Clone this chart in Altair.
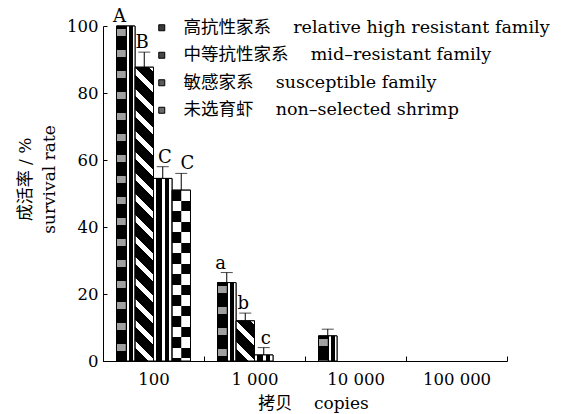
import math

import altair as alt
import pandas as pd

# ---- data -------------------------------------------------------------
copies = ["100", "1 000", "10 000", "100 000"]
family_cn = ["高抗性家系", "中等抗性家系", "敏感家系", "未选育虾"]
family_en = [
    "relative high resistant family",
    "mid–resistant family",
    "susceptible family",
    "non–selected shrimp",
]

high_rate = [100.0, 23.4, 7.5, 0.0]
mid_rate = [87.7, 12.0, 0.0, 0.0]
sus_rate = [54.5, 1.8, 0.0, 0.0]
wild_rate = [51.0, 0.0, 0.0, 0.0]

high_err = [0.0, 3.0, 2.0, 0.0]
mid_err = [4.5, 2.3, 0.0, 0.0]
sus_err = [3.5, 2.2, 0.0, 0.0]
wild_err = [5.0, 0.0, 0.0, 0.0]

high_sig = ["A", "a", "", ""]
mid_sig = ["B", "b", "", ""]
sus_sig = ["C", "c", "", ""]
wild_sig = ["C", "", "", ""]

GAP = "\u00a0" * 4
families = [f"{cn}{GAP}{en}" for cn, en in zip(family_cn, family_en)]
# half-width slots, with one empty slot at each end of a group
halves = ["<"] + [f"{f}|{side}" for f in families for side in ("L", "R")] + [">"]

rows = []
for fam, rates, errs, sigs in zip(
    families,
    [high_rate, mid_rate, sus_rate, wild_rate],
    [high_err, mid_err, sus_err, wild_err],
    [high_sig, mid_sig, sus_sig, wild_sig],
):
    for cp, r, e, s in zip(copies, rates, errs, sigs):
        rows.append({"copies": cp, "family": fam, "rate": r, "err": e,
                     "upper": r + e, "sig": s})
df = pd.DataFrame(rows)

# ---- layout -----------------------------------------------------------
PLOT_W, PLOT_H = 404, 335
OUTER = 0.73                      # outer padding of a bar group, in bar widths
BAND = PLOT_W / len(copies)
BAR_W = BAND / (len(families) + 2 * OUTER)
HALF_OUTER = (BAND / (BAR_W / 2) - len(halves)) / 2
PX_PER_UNIT = PLOT_H / 100.0

LATIN = "'DejaVu Serif', 'Noto Sans CJK SC', serif"
CLEAR = "rgba(0,0,0,0)"

# ---- hatch fills built from hard-stop linear gradients -----------------
def stops_from_runs(runs, lo, span):
    out = []
    for a, b, col in runs:
        a, b = max(a, lo), min(b, lo + span)
        if b <= a:
            continue
        out.append({"offset": round((a - lo) / span, 5), "color": col})
        out.append({"offset": round((b - lo) / span, 5), "color": col})
    return out


def column_fill(cols):
    stops, start = [], 0.0
    for end, col in cols:
        stops += [{"offset": start, "color": col}, {"offset": end, "color": col}]
        start = end
    return {"gradient": "linear", "x1": 0, "y1": 0, "x2": 1, "y2": 0, "stops": stops}


def row_fill(h, cycle, phase=0.0):
    runs, pos, i = [], -phase, 0
    while pos < h:
        ln, col = cycle[i % len(cycle)]
        runs.append((pos, pos + ln, col))
        pos += ln
        i += 1
    return {"gradient": "linear", "x1": 0, "y1": 0, "x2": 0, "y2": 1,
            "stops": stops_from_runs(runs, 0.0, h)}


def stripe_fill(h, w, slope, cycle):
    # stripes along y - slope * x = const, inside a w x h bar
    lo, span = -slope * w, h + slope * w
    alpha = span / (slope ** 2 * w ** 2 + h ** 2)
    period = sum(ln for ln, _ in cycle)
    runs, pos, i = [], math.floor(lo / period) * period, 0
    while pos < lo + span:
        ln, col = cycle[i % len(cycle)]
        runs.append((pos, pos + ln, col))
        pos += ln
        i += 1
    return {"gradient": "linear", "x1": 1, "y1": 0,
            "x2": round(1 - alpha * slope * w, 5), "y2": round(alpha * h, 5),
            "stops": stops_from_runs(runs, lo, span)}


HIGH_COLS = [(0.55, "black"), (0.70, "white"), (0.90, "black"), (1.0, "white")]
SUS_COLS = [(0.15, "white"), (0.48, "black"), (0.60, "white"), (0.85, "black"), (1.0, "white")]
MID_CYCLE = [(7, "white"), (14, "black")]
CHECK = 10.5
PATCH_CYCLE = [(7, "#a0a0a0"), (14, CLEAR)]

# ---- shared encodings -------------------------------------------------
x_axis = alt.Axis(
    labelAngle=0, tickBand="extent", tickSize={"expr": "-5"}, tickColor="black",
    domainColor="black", labelColor="black", labelFont=LATIN, labelFontSize=16.5,
    labelPadding=15, grid=False,
    title=f"拷贝{GAP}copies", titleFont=LATIN, titleFontSize=17, titleFontWeight="normal",
    titleColor="black", titleX=210, titleY=47, titleBaseline="alphabetic",
)
y_axis = alt.Axis(
    values=[0, 20, 40, 60, 80, 100], tickSize={"expr": "-4"}, tickColor="black",
    domainColor="black", labelColor="black", labelFont=LATIN, labelFontSize=16.5,
    labelPadding=9, grid=False,
    title=["成活率 / %", "survival rate"], titleFont=LATIN, titleFontSize=17,
    titleFontWeight="normal", titleColor="black", titleLineHeight=24,
    titleAngle=270, titleAlign="center", titleBaseline="middle",
    titleX=-78, titleY=153,
)
x_scale = alt.Scale(domain=copies, paddingInner=0, paddingOuter=0)
y_scale = alt.Scale(domain=[0, 100], nice=False)
fam_scale = alt.Scale(domain=families, paddingInner=0, paddingOuter=OUTER)
half_scale = alt.Scale(domain=halves, paddingInner=0, paddingOuter=round(HALF_OUTER, 4))

X = alt.X("copies:N", sort=copies, scale=x_scale, axis=x_axis)
XO = alt.XOffset("family:N", sort=families, scale=fam_scale)


def Y(field="rate"):
    return alt.Y(f"{field}:Q", scale=y_scale, axis=y_axis)


def one_bar(fam, cp):
    return alt.Chart(df).transform_filter(
        (alt.datum.family == fam) & (alt.datum.copies == cp)
    )


# ---- layers -----------------------------------------------------------
base = alt.Chart(df).transform_filter("datum.rate > 0").mark_bar(
    stroke="black", strokeWidth=1
).encode(
    x=X, xOffset=XO, y=Y(),
    fill=alt.Fill(
        "family:N", sort=families,
        scale=alt.Scale(domain=families, range=["#3a3a3a", "#474747", "#5a5a5a", "#6a6a6a"]),
        legend=alt.Legend(
            orient="none", legendX=50, legendY=-7, title=None, padding=0,
            symbolType="square", symbolSize=36, symbolStrokeColor="black",
            symbolStrokeWidth=1, symbolOpacity=1,
            labelFont=LATIN, labelFontSize=17.5, labelColor="black",
            labelLimit=600, labelOffset=13, rowPadding=8.5,
        ),
    ),
)

layers = [base]
patterns = []
for _, r in df[df.rate > 0].iterrows():
    fam, cp = r["family"], r["copies"]
    h = r["rate"] * PX_PER_UNIT
    idx = families.index(fam)
    if idx == 0:
        fill = column_fill(HIGH_COLS)
    elif idx == 1:
        fill = stripe_fill(h, BAR_W, 1.0, MID_CYCLE)
    elif idx == 2:
        fill = column_fill(SUS_COLS)
    else:
        fill = row_fill(h, [(CHECK, "black"), (CHECK, "white")])
    layers.append(one_bar(fam, cp).mark_bar(fill=fill).encode(x=X, xOffset=XO, y=Y()))

    # second pass on one half of the bar: checker squares / dotted patches
    if idx == 3:
        side, over = "R", row_fill(h, [(CHECK, "white"), (CHECK, "black")])
    elif idx == 0:
        side, over = "L", row_fill(h, PATCH_CYCLE, phase=18)
    else:
        continue
    patterns.append(
        one_bar(fam, cp)
        .transform_calculate(half=f"datum.family + '|{side}'")
        .mark_bar(fill=over)
        .encode(x=X, xOffset=alt.XOffset("half:N", sort=halves, scale=half_scale), y=Y())
    )

outline = alt.Chart(df).transform_filter("datum.rate > 0").mark_bar(
    fillOpacity=0, stroke="black", strokeWidth=1
).encode(x=X, xOffset=XO, y=Y())

err = alt.Chart(df).transform_filter("datum.err > 0")
err_line = err.mark_rule(color="black", strokeWidth=1).encode(
    x=X, xOffset=XO, y=Y(), y2="upper:Q"
)
err_cap = err.mark_tick(color="black", thickness=1, size=12).encode(
    x=X, xOffset=XO, y=Y("upper")
)
letters = alt.Chart(df).transform_filter("datum.sig != ''").mark_text(
    font=LATIN, fontSize=18, color="black", baseline="alphabetic", dy=-4
).encode(x=X, xOffset=XO, y=Y("upper"), text="sig:N")

chart = (
    alt.layer(*layers, *patterns, outline, err_line, err_cap, letters)
    .resolve_scale(xOffset="independent")
    .properties(
        width=PLOT_W, height=PLOT_H,
        autosize=alt.AutoSizeParams(type="none"),
        padding={"left": 103, "top": 26, "right": 577 - 103 - PLOT_W,
                 "bottom": 414 - 26 - PLOT_H},
        background="white",
    )
    .configure_view(strokeWidth=0)
)

chart.save("out.html", embed_options={"renderer": "svg", "actions": False})
